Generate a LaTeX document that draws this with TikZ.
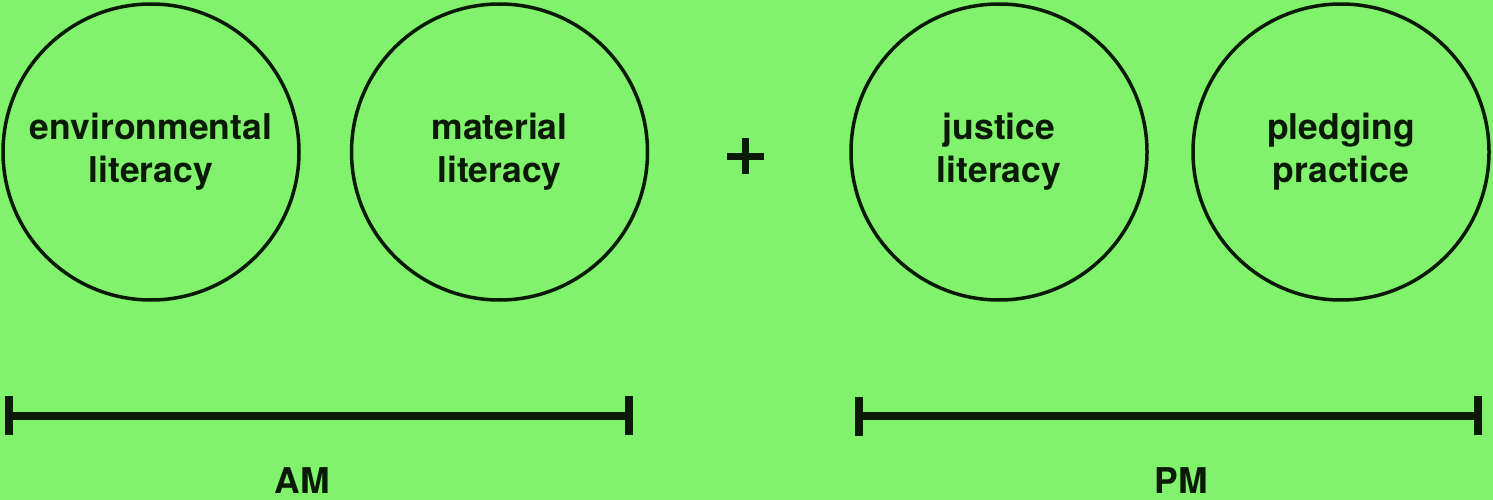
\documentclass[tikz,border=0pt]{standalone}
\usepackage{fontspec}
\setmainfont{TeX Gyre Heros}
\definecolor{bg}{HTML}{80F26B}
\definecolor{ink}{HTML}{0A1A06}
\begin{document}
\begin{tikzpicture}[x=1pt,y=-1pt,
  ring/.style={circle,draw=ink,line width=3.5pt,minimum size=296pt,inner sep=0pt},
  txt/.style={text=ink,font=\fontsize{35.5}{43.5}\selectfont\bfseries,align=center,inner sep=0pt,anchor=base},
  barline/.style={draw=ink,line width=8pt},
  tick/.style={draw=ink,line width=8pt}]
\fill[bg] (0,0) rectangle (1493,500);
\useasboundingbox (0,0) rectangle (1493,500);
% circles
\node[ring] (c1) at (151,152) {};
\node[ring] (c2) at (499.5,152) {};
\node[ring] (c3) at (999,152) {};
\node[ring] (c4) at (1341,152) {};
% texts (base anchor = baseline of last line)
\node[txt] (t1) at (151,182.5) {environmental\\literacy};
\node[txt] (t2) at (499.5,182.5) {material\\literacy};
\node[txt] (t3) at (999,182.5) {justice\\literacy};
\node[txt] (t4) at (1341,182.5) {pledging\\practice};
% plus
\coordinate (pl) at (727,156);
\coordinate (pr) at (764,156);
\coordinate (pt) at (745.5,138);
\coordinate (pb) at (745.5,174);
\draw[draw=ink,line width=7pt] (pl) -- (pr);
\draw[draw=ink,line width=7pt] (pt) -- (pb);
% AM bar
\coordinate (a1) at (9,416);
\coordinate (a2) at (629,416);
\coordinate (a1t) at (9,396);
\coordinate (a1b) at (9,435);
\coordinate (a2t) at (629,396);
\coordinate (a2b) at (629,435);
\draw[barline] (a1) -- (a2);
\draw[tick] (a1t) -- (a1b);
\draw[tick] (a2t) -- (a2b);
\node[txt,anchor=base] (am) at (302,493) {AM};
% PM bar
\coordinate (b1) at (859,416);
\coordinate (b2) at (1478,416);
\coordinate (b1t) at (859,397);
\coordinate (b1b) at (859,436);
\coordinate (b2t) at (1478,396);
\coordinate (b2b) at (1478,435);
\draw[barline] (b1) -- (b2);
\draw[tick] (b1t) -- (b1b);
\draw[tick] (b2t) -- (b2b);
\node[txt,anchor=base] (pm) at (1181,493) {PM};
\end{tikzpicture}
\end{document}
